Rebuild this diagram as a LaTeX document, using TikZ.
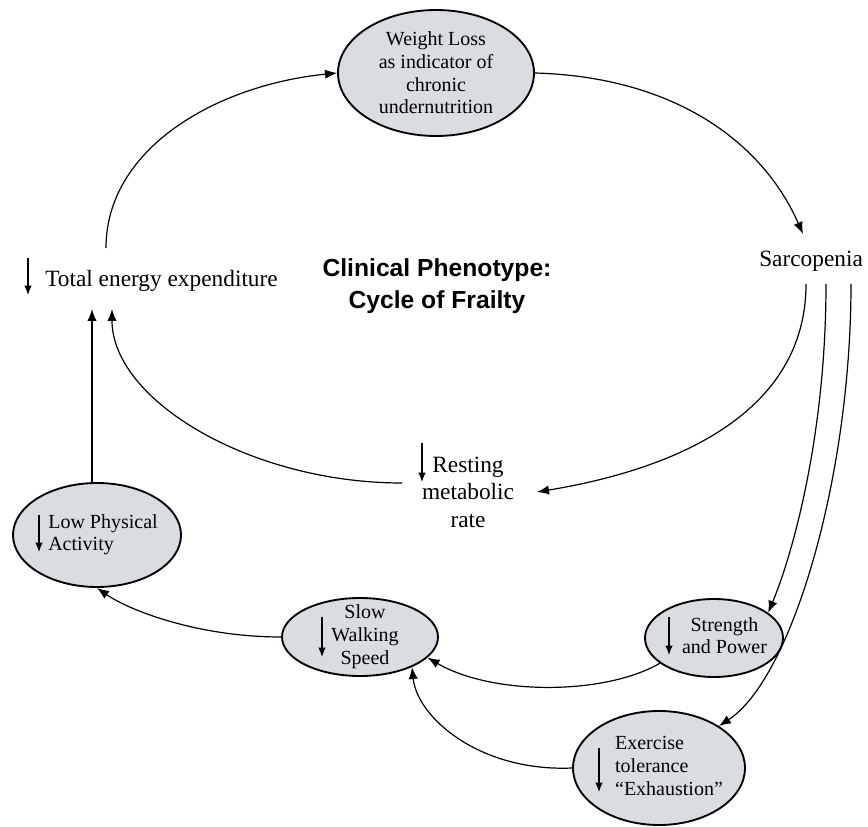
\documentclass[tikz,border=0pt]{standalone}
\usepackage{fontspec}
\setmainfont{Liberation Serif}
\newfontfamily\titlefont{Liberation Sans}
\usetikzlibrary{arrows.meta,shapes.geometric}
\definecolor{bubblegray}{RGB}{217,220,224}
\tikzset{
  bubble/.style={ellipse, draw, line width=1.4pt, fill=bubblegray, inner sep=-8pt, font=\fontsize{15}{17}\selectfont},
  plain/.style={font=\fontsize{17.5}{20.5}\selectfont, inner sep=0pt},
  link/.style={line width=0.9pt, -{Latex[length=9pt,width=7pt]}},
  fall/.style={line width=0.8pt, -{Latex[length=7pt,width=5.5pt]}}
}
\begin{document}
\begin{tikzpicture}[x=0.75pt,y=0.75pt,yscale=-1,xscale=1]
\useasboundingbox[fill=white] (0,0) rectangle (868,827);

%Shape: Ellipse [wl]
\node[bubble, minimum width=147pt, minimum height=94.5pt, align=center] (wl) at (436,73) {Weight Loss\\as indicator of\\chronic\\undernutrition};
%Shape: Ellipse [lpa]
\node[bubble, minimum width=126pt, minimum height=78pt] (lpa) at (97,535) {\hspace*{9pt}\begin{tabular}{@{}l@{}}Low Physical\\Activity\end{tabular}};
%Shape: Ellipse [sws]
\node[bubble, minimum width=117pt, minimum height=58.5pt] (sws) at (360,637) {\hspace*{7.5pt}\begin{tabular}{@{}c@{}}Slow\\Walking\\Speed\end{tabular}};
%Shape: Ellipse [str]
\node[bubble, minimum width=103.5pt, minimum height=58.5pt] (str) at (714,638) {\hspace*{15.75pt}\begin{tabular}{@{}c@{}}Strength\\and Power\end{tabular}};
%Shape: Ellipse [ext]
\node[bubble, minimum width=129pt, minimum height=85.5pt] (ext) at (659,768) {\hspace*{15pt}\begin{tabular}{@{}l@{}}Exercise\\tolerance\\“Exhaustion”\end{tabular}};

% Text Node
\node[plain, anchor=base west] (tee) at (45,287) {Total energy expenditure};
% Text Node
\node[plain, anchor=base west] (sarc) at (759,267) {Sarcopenia};
% Text Node
\node[plain, align=center, anchor=base] (rmr) at (468,527) {Resting\\metabolic\\rate};
% Text Node
\node[font=\titlefont\fontsize{18.5}{24}\selectfont\bfseries, align=center] (title) at (437,286) {Clinical Phenotype:\\Cycle of Frailty};

%Down arrows beside the labels
\draw[fall] (28,258) -- (28,295);
\draw[fall] (422,443) -- (422,482);
\draw[fall] (39,515) -- (39,552);
\draw[fall] (322,617) -- (322,657);
\draw[fall] (669,617) -- (669,655);
\draw[fall] (599,748) -- (599,792);

%Free ends next to the text nodes
\coordinate (tee-a) at (106,248);
\coordinate (tee-b) at (112,309);
\coordinate (tee-c) at (92,309);
\coordinate (sarc-in) at (803,234);
\coordinate (sarc-a) at (806,284);
\coordinate (sarc-b) at (826,284);
\coordinate (sarc-c) at (851,284);
\coordinate (rmr-in) at (537,492);
\coordinate (rmr-out) at (402,483);

%Curves of the cycle
\draw[link] (tee-a) .. controls +(0,-100) and +(-120,12) .. (wl.west);
\draw[link] (wl.east) .. controls +(141,4) and +(-40,-91) .. (sarc-in);
\draw[link] (sarc-a) .. controls +(0,116) and +(163,-27) .. (rmr-in);
\draw[link] (rmr-out) .. controls +(-152,0) and +(0,91) .. (tee-b);
\draw[link] (lpa.north -| tee-c) -- (tee-c);
\draw[link] (sarc-b) .. controls +(0,150) and +(25,-60) .. (str.25);
\draw[link] (sarc-c) .. controls +(0,196) and +(72,-47) .. (ext.35);
\draw[link] (str.205) .. controls +(-55,32) and +(65,38) .. (sws.343);
\draw[link] (ext.west) .. controls +(-93,4) and +(5,50) .. (sws.330);
\draw[link] (sws.west) .. controls +(-82,0) and +(33,23) .. (lpa.south);

\end{tikzpicture}
\end{document}
